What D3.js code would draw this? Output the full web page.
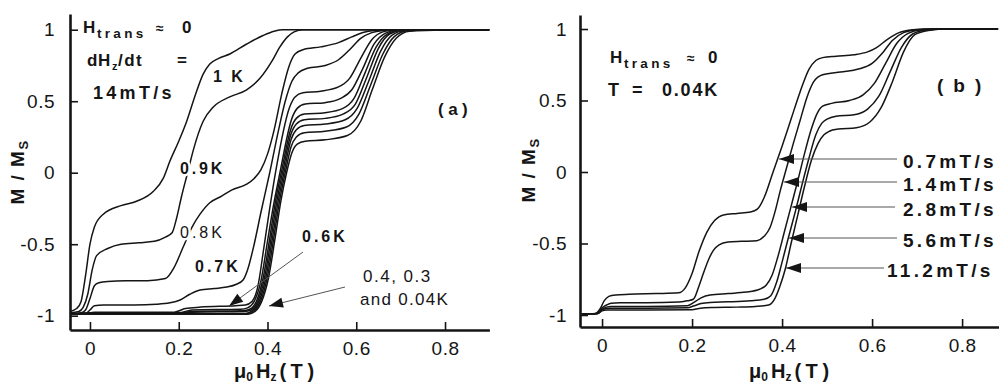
<!DOCTYPE html>
<html><head><meta charset="utf-8">
<script src="https://cdn.jsdelivr.net/npm/d3@7"></script>
<style>
body{margin:0;background:#fff;}
svg{display:block;font-family:"Liberation Sans",Arial,Helvetica,sans-serif;}
</style></head><body>
<svg id="c" width="999" height="385"></svg>
<script>
// ---------- Panel (a): dH/dt = 14 mT/s, curves at several temperatures ----------
const panelA_labels = ["1 K","0.9 K","0.8 K","0.7 K","0.6 K","unlabeled","unlabeled","unlabeled","0.4 K","0.3 K","0.04 K"];
const panelA_H = [
 [-0.045,-0.03,-0.02,-0.01,0,0.01,0.03,0.07,0.105,0.143,0.165,0.18,0.2,0.218,0.237,0.255,0.27,0.29,0.315,0.353,0.39,0.415,0.435,0.9],
 [-0.045,-0.025,-0.015,-0.005,0.005,0.015,0.04,0.07,0.11,0.145,0.17,0.185,0.195,0.206,0.22,0.233,0.255,0.278,0.315,0.353,0.383,0.41,0.428,0.445,0.46,0.48,0.9],
 [-0.045,-0.02,-0.01,0,0.01,0.02,0.04,0.08,0.13,0.17,0.19,0.21,0.23,0.248,0.27,0.293,0.32,0.353,0.37,0.385,0.4,0.415,0.432,0.448,0.462,0.48,0.52,0.56,0.59,0.615,0.64,0.67,0.9],
 [-0.045,-0.01,0,0.01,0.03,0.1,0.15,0.18,0.203,0.225,0.248,0.28,0.308,0.33,0.345,0.355,0.37,0.385,0.405,0.425,0.44,0.455,0.47,0.49,0.53,0.56,0.585,0.61,0.635,0.66,0.69,0.9],
 [-0.045,-0.01,0.01,0.19,0.215,0.25,0.328,0.35,0.365,0.378,0.392,0.405,0.418,0.45,0.462,0.48,0.52,0.56,0.585,0.61,0.635,0.66,0.69,0.9],
 [-0.045,0.01,0.2,0.23,0.34,0.355,0.37,0.385,0.4,0.414,0.428,0.455,0.467,0.485,0.53,0.565,0.59,0.615,0.64,0.665,0.695,0.9],
 [-0.045,0.01,0.2,0.23,0.345,0.36,0.375,0.39,0.405,0.418,0.431,0.453,0.465,0.483,0.53,0.57,0.595,0.62,0.645,0.67,0.7,0.9],
 [-0.045,0.01,0.2,0.23,0.348,0.363,0.378,0.393,0.408,0.421,0.434,0.453,0.465,0.483,0.53,0.57,0.598,0.624,0.65,0.675,0.705,0.9],
 [-0.045,0.01,0.35,0.366,0.381,0.396,0.411,0.424,0.437,0.453,0.465,0.483,0.53,0.575,0.602,0.628,0.655,0.68,0.71,0.8,0.9],
 [-0.045,0.01,0.353,0.369,0.384,0.399,0.414,0.427,0.44,0.453,0.465,0.483,0.53,0.578,0.606,0.632,0.66,0.685,0.715,0.8,0.9],
 [-0.045,0.01,0.356,0.372,0.387,0.402,0.417,0.43,0.443,0.455,0.467,0.485,0.53,0.58,0.61,0.636,0.664,0.69,0.72,0.8,0.9]
];
const panelA_M = [
 [-0.97,-0.95,-0.9,-0.72,-0.5,-0.38,-0.29,-0.23,-0.2,-0.13,-0.04,0.08,0.22,0.36,0.54,0.69,0.76,0.8,0.83,0.9,0.96,0.99,1.0,1.0],
 [-0.98,-0.97,-0.94,-0.85,-0.68,-0.58,-0.53,-0.5,-0.49,-0.48,-0.45,-0.42,-0.32,-0.17,0.0,0.16,0.36,0.46,0.53,0.58,0.66,0.78,0.88,0.95,0.985,1.0,1.0],
 [-0.985,-0.98,-0.96,-0.88,-0.79,-0.77,-0.76,-0.755,-0.755,-0.74,-0.66,-0.52,-0.38,-0.29,-0.21,-0.17,-0.12,-0.08,-0.04,0.02,0.13,0.3,0.55,0.74,0.83,0.86,0.88,0.91,0.95,0.98,0.995,1.0,1.0],
 [-0.99,-0.985,-0.96,-0.93,-0.925,-0.925,-0.92,-0.91,-0.89,-0.85,-0.82,-0.81,-0.8,-0.78,-0.75,-0.68,-0.5,-0.28,0,0.3,0.5,0.64,0.7,0.73,0.75,0.79,0.86,0.94,0.98,0.995,1.0,1.0],
 [-0.99,-0.985,-0.975,-0.975,-0.95,-0.94,-0.93,-0.925,-0.9,-0.8,-0.52,-0.25,0,0.46,0.53,0.56,0.57,0.6,0.66,0.8,0.93,0.985,1.0,1.0],
 [-0.99,-0.98,-0.98,-0.96,-0.955,-0.945,-0.9,-0.76,-0.48,-0.22,0,0.38,0.45,0.48,0.49,0.52,0.58,0.73,0.9,0.975,1.0,1.0],
 [-0.99,-0.983,-0.983,-0.97,-0.965,-0.955,-0.9,-0.74,-0.46,-0.2,0,0.31,0.38,0.41,0.42,0.45,0.52,0.7,0.88,0.97,0.998,1.0],
 [-0.99,-0.985,-0.985,-0.975,-0.97,-0.96,-0.9,-0.74,-0.46,-0.2,0,0.27,0.34,0.37,0.38,0.41,0.48,0.67,0.87,0.97,0.997,1.0],
 [-0.99,-0.987,-0.985,-0.965,-0.9,-0.74,-0.46,-0.2,0,0.23,0.3,0.33,0.34,0.37,0.45,0.64,0.85,0.96,0.995,1.0,1.0],
 [-0.99,-0.988,-0.987,-0.967,-0.9,-0.74,-0.46,-0.2,0,0.18,0.25,0.28,0.29,0.32,0.41,0.61,0.83,0.95,0.993,0.999,1.0],
 [-0.99,-0.99,-0.989,-0.97,-0.9,-0.74,-0.46,-0.2,0,0.14,0.2,0.22,0.23,0.26,0.36,0.58,0.81,0.94,0.99,0.998,1.0]
];

// ---------- Panel (b): T = 0.04 K, several sweep rates ----------
const panelB_labels = ["0.7mT/s","1.4mT/s","2.8mT/s","5.6mT/s","11.2mT/s"];
const panelB_H = [
 [-0.045,-0.015,-0.005,0.005,0.015,0.03,0.06,0.12,0.17,0.185,0.2,0.215,0.233,0.25,0.27,0.3,0.33,0.345,0.36,0.38,0.4,0.42,0.44,0.46,0.475,0.49,0.52,0.56,0.59,0.61,0.635,0.66,0.69,0.72,0.88],
 [-0.045,-0.01,0,0.01,0.02,0.04,0.1,0.17,0.19,0.203,0.215,0.225,0.237,0.247,0.26,0.28,0.31,0.344,0.36,0.373,0.385,0.396,0.41,0.425,0.44,0.455,0.47,0.49,0.53,0.57,0.6,0.625,0.645,0.67,0.7,0.73,0.88],
 [-0.045,-0.01,0,0.01,0.02,0.04,0.1,0.19,0.205,0.22,0.24,0.28,0.32,0.35,0.365,0.378,0.39,0.405,0.42,0.435,0.45,0.465,0.478,0.49,0.51,0.55,0.58,0.605,0.63,0.655,0.68,0.71,0.75,0.88],
 [-0.045,-0.01,0,0.01,0.02,0.04,0.1,0.19,0.205,0.22,0.24,0.28,0.33,0.36,0.375,0.388,0.4,0.414,0.43,0.445,0.46,0.475,0.488,0.5,0.52,0.56,0.59,0.615,0.64,0.665,0.69,0.72,0.76,0.88],
 [-0.045,-0.01,0,0.01,0.02,0.04,0.1,0.2,0.215,0.23,0.25,0.3,0.34,0.37,0.383,0.395,0.407,0.42,0.435,0.45,0.465,0.48,0.493,0.505,0.525,0.565,0.595,0.62,0.645,0.67,0.695,0.725,0.77,0.88]
];
const panelB_M = [
 [-0.993,-0.99,-0.96,-0.9,-0.87,-0.86,-0.855,-0.85,-0.845,-0.81,-0.71,-0.56,-0.42,-0.34,-0.3,-0.29,-0.28,-0.26,-0.18,0.0,0.18,0.37,0.56,0.72,0.78,0.8,0.81,0.82,0.84,0.87,0.93,0.975,0.995,1.0,1.0],
 [-0.993,-0.99,-0.95,-0.93,-0.918,-0.915,-0.915,-0.91,-0.9,-0.89,-0.8,-0.71,-0.61,-0.55,-0.51,-0.49,-0.485,-0.48,-0.45,-0.39,-0.27,-0.13,0.03,0.2,0.36,0.52,0.63,0.68,0.7,0.72,0.76,0.84,0.92,0.975,0.995,1.0,1.0],
 [-0.993,-0.99,-0.96,-0.945,-0.94,-0.94,-0.94,-0.935,-0.91,-0.88,-0.86,-0.85,-0.84,-0.82,-0.79,-0.72,-0.6,-0.42,-0.24,-0.06,0.13,0.3,0.41,0.46,0.48,0.5,0.54,0.62,0.76,0.9,0.97,0.995,1.0,1.0],
 [-0.993,-0.99,-0.965,-0.955,-0.953,-0.953,-0.953,-0.95,-0.935,-0.92,-0.912,-0.908,-0.9,-0.89,-0.865,-0.77,-0.63,-0.46,-0.27,-0.08,0.1,0.26,0.34,0.37,0.39,0.4,0.44,0.53,0.7,0.87,0.965,0.993,1.0,1.0],
 [-0.993,-0.99,-0.97,-0.965,-0.965,-0.965,-0.965,-0.963,-0.955,-0.95,-0.948,-0.945,-0.94,-0.93,-0.89,-0.8,-0.68,-0.5,-0.3,-0.1,0.08,0.2,0.26,0.285,0.3,0.31,0.35,0.45,0.63,0.84,0.96,0.99,1.0,1.0]
];

const xTicks = [0, 0.2, 0.4, 0.6, 0.8];
const yTicks = [-1, -0.5, 0, 0.5, 1];

// ---------- drawing ----------
const svg = d3.select("#c");
const INK = "#151515";

function zip(H, M){ const n = Math.min(H.length, M.length); const out=[]; for(let i=0;i<n;i++) out.push([H[i], M[i]]); return out; }

function panel(opt){
  const g = svg.append("g");
  const x = d3.scaleLinear().domain(opt.xDom).range(opt.xRange);
  const y = d3.scaleLinear().domain(opt.yDom).range(opt.yRange);
  const clipId = "clip" + opt.id;
  svg.append("clipPath").attr("id", clipId).append("rect")
    .attr("x", opt.xRange[0]).attr("y", opt.yRange[1]-2)
    .attr("width", opt.xRange[1]-opt.xRange[0]).attr("height", opt.yRange[0]-opt.yRange[1]+2);
  const line = d3.line().x(d=>x(d[0])).y(d=>y(d[1])).curve(d3.curveMonotoneX);
  const cg = g.append("g").attr("clip-path", `url(#${clipId})`);
  opt.H.forEach((H,i)=>{
    cg.append("path").datum(zip(H, opt.M[i]))
      .attr("d", line).attr("fill","none").attr("stroke", INK)
      .attr("stroke-width", 1.5).attr("stroke-linejoin","round");
  });
  const xa = g.append("g").attr("transform", `translate(0,${opt.yRange[0]})`)
    .call(d3.axisBottom(x).tickValues(xTicks).tickSizeInner(-8).tickSizeOuter(0).tickPadding(12).tickFormat(d=>String(d)));
  const ya = g.append("g").attr("transform", `translate(${opt.xRange[0]},0)`)
    .call(d3.axisLeft(y).tickValues(yTicks).tickSizeInner(-8).tickSizeOuter(0).tickPadding(opt.yPad).tickFormat(d=>String(d)));
  [xa, ya].forEach(a=>{
    a.select(".domain").attr("stroke", INK).attr("stroke-width", 2.6);
    a.selectAll(".tick line").attr("stroke", INK).attr("stroke-width", 1.6);
    a.selectAll(".tick text").attr("fill", INK).style("font-size","19px").style("font-family",'"Liberation Sans",Arial,sans-serif').attr("letter-spacing","0.5");
  });
  return {g, x, y};
}

const A = panel({id:"a", xDom:[-0.045,0.9], xRange:[70,489.4], yDom:[-1.1,1.11], yRange:[330,14], yPad:15, H:panelA_H, M:panelA_M});
const B = panel({id:"b", xDom:[-0.049,0.882], xRange:[580,999], yDom:[-1.084,1.098], yRange:[327,15], yPad:13, H:panelB_H, M:panelB_M});

function txt(x, y, s, size, weight, ls, extra){
  const t = svg.append("text").attr("x", x).attr("y", y).text(s)
    .attr("fill", INK).style("font-size", size+"px").style("font-weight", weight||"bold")
    .attr("letter-spacing", ls||0);
  if (extra) extra(t);
  return t;
}
const halo = t => t.attr("stroke","#fff").attr("stroke-width",5).attr("paint-order","stroke").attr("stroke-linejoin","round");

// axis titles
function yTitle(cx, cy){
  const t = svg.append("text").attr("transform", `translate(${cx},${cy}) rotate(-90)`)
    .attr("text-anchor","middle").attr("fill", INK).style("font-size","19px").style("font-weight","bold").attr("letter-spacing","1.5");
  t.append("tspan").text("M / M");
  t.append("tspan").text("S").style("font-size","13px").attr("dy", 4);
}
yTitle(24, 172);
yTitle(535, 170);

function xTitle(x0, yb){
  const t = svg.append("text").attr("x", x0).attr("y", yb).attr("fill", INK)
    .style("font-size","20px").style("font-weight","bold");
  t.append("tspan").text("μ");
  t.append("tspan").text("0").style("font-size","12px").attr("dy", 3);
  t.append("tspan").text("H").attr("dy", -3).attr("dx", 3);
  t.append("tspan").text("z").style("font-size","12px").attr("dy", 3);
  t.append("tspan").text("( T )").attr("dy", -3).attr("dx", 3).attr("letter-spacing","-0.5");
}
xTitle(234, 378);
xTitle(749, 378);

// panel (a) header text
txt(83, 33, "H", 17);
txt(97, 38, "trans", 13.5, "bold", 3.3);
txt(156, 33, "≈", 14, "bold");
txt(182, 33, "0", 17);
txt(87, 66, "d", 17, "bold", 1);
txt(98, 66, "H", 17);
txt(112, 70, "z", 11);
txt(118, 66, "/dt", 17, "bold", 1.5);
txt(177, 66, "=", 17);
txt(93, 99, "14mT/s", 18, "bold", 3.3);
txt(438, 115, "(a)", 17, "bold", 4.5);

// panel (a) curve labels
txt(213, 82, "1 K", 16, "bold", 2.5, halo);
txt(180, 174, "0.9K", 16, "bold", 2.8, halo);
txt(180, 238, "0.8K", 16, "normal", 3, halo);
txt(195, 272, "0.7K", 16, "bold", 3, halo);
txt(302, 242, "0.6K", 16, "bold", 3, halo);
txt(363, 282, "0.4,  0.3", 17, "normal", 1.5);
txt(360, 305, "and 0.04K", 17, "normal", 1.3);

function arrow(x1, y1, x2, y2, len, hw){
  svg.append("line").attr("x1", x1).attr("y1", y1).attr("x2", x2).attr("y2", y2)
    .attr("stroke", "#555").attr("stroke-width", 1);
  const a = Math.atan2(y2-y1, x2-x1);
  const bx = x2 - len*Math.cos(a), by = y2 - len*Math.sin(a);
  const px = -Math.sin(a)*hw, py = Math.cos(a)*hw;
  svg.append("path").attr("d", `M${x2},${y2}L${bx+px},${by+py}L${bx-px},${by-py}Z`).attr("fill", INK);
}
arrow(303, 252, 229, 306, 14, 5);
arrow(345, 287, 269, 306, 14, 5);

// panel (b) header text
txt(610, 63, "H", 17);
txt(624, 68, "trans", 13.5, "bold", 3.3);
txt(687, 63, "≈", 14, "bold");
txt(708, 63, "0", 17);
txt(608, 96, "T", 18);
txt(632, 96, "=", 18);
txt(662, 96, "0.04K", 18, "bold", 1.8);
txt(937, 92, "(b)", 19, "bold", 10);

// panel (b) rate labels and arrows
const arrowY = [159, 182, 207, 238, 268];
const arrowTipX = [779, 784, 792, 789, 786];
const arrowEndX = [897, 897, 895, 897, 884];
const labelX = [903, 903, 903, 903, 887];
panelB_labels.forEach((s,i)=>{
  arrow(arrowEndX[i], arrowY[i], arrowTipX[i], arrowY[i], 15, 5);
  txt(labelX[i], arrowY[i]+9, s, 19, "bold", 3.3);
});
</script></body></html>
